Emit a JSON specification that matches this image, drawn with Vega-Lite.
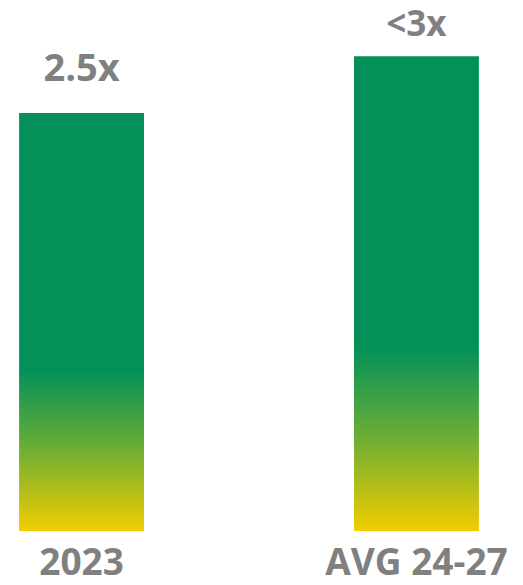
{
  "$schema": "https://vega.github.io/schema/vega-lite/v6.json",
  "width": 498,
  "height": 531,
  "autosize": {"type": "none"},
  "padding": {"left": 0, "top": 0, "right": 25, "bottom": 54},
  "background": "#ffffff",
  "config": {"view": {"stroke": null}, "font": "Open Sans"},
  "data": {"values": [
    {"period": "2023", "value": 2.5, "label": "2.5x"},
    {"period": "AVG 24-27", "value": 2.84, "label": "<3x"}
  ]},
  "encoding": {
    "x": {"field": "period", "type": "nominal", "sort": null,
      "scale": {"paddingInner": 0.627, "paddingOuter": 0.057},
      "axis": {"title": null, "ticks": false, "domain": false, "labelAngle": 0,
        "labelFont": "Open Sans", "labelFontWeight": "bold", "labelFontSize": 37,
        "labelColor": "#808080", "labelBaseline": "alphabetic", "labelPadding": 43,
        "labelLimit": 0, "labelOverlap": false, "grid": false}},
    "y": {"field": "value", "type": "quantitative",
      "scale": {"domain": [0, 3.176], "nice": false, "zero": true}, "axis": null}
  },
  "layer": [
    {"mark": {"type": "bar", "color": {"gradient": "linear", "x1": 0, "y1": 0, "x2": 0, "y2": 1,
      "stops": [
        {"offset": 0, "color": "#039159"},
        {"offset": 0.615, "color": "#039159"},
        {"offset": 0.8, "color": "#6BAD36"},
        {"offset": 1, "color": "#F2CD00"}
      ]}}},
    {"transform": [{"filter": "datum.period == '2023'"}],
      "mark": {"type": "text", "font": "Open Sans", "fontWeight": "bold", "fontSize": 38, "color": "#808080", "baseline": "alphabetic", "dy": -32},
      "encoding": {"text": {"field": "label"}}},
    {"transform": [{"filter": "datum.period != '2023'"}],
      "mark": {"type": "text", "font": "Open Sans", "fontWeight": "bold", "fontSize": 35, "color": "#808080", "baseline": "alphabetic", "dy": -20},
      "encoding": {"text": {"field": "label"}}}
  ]
}
